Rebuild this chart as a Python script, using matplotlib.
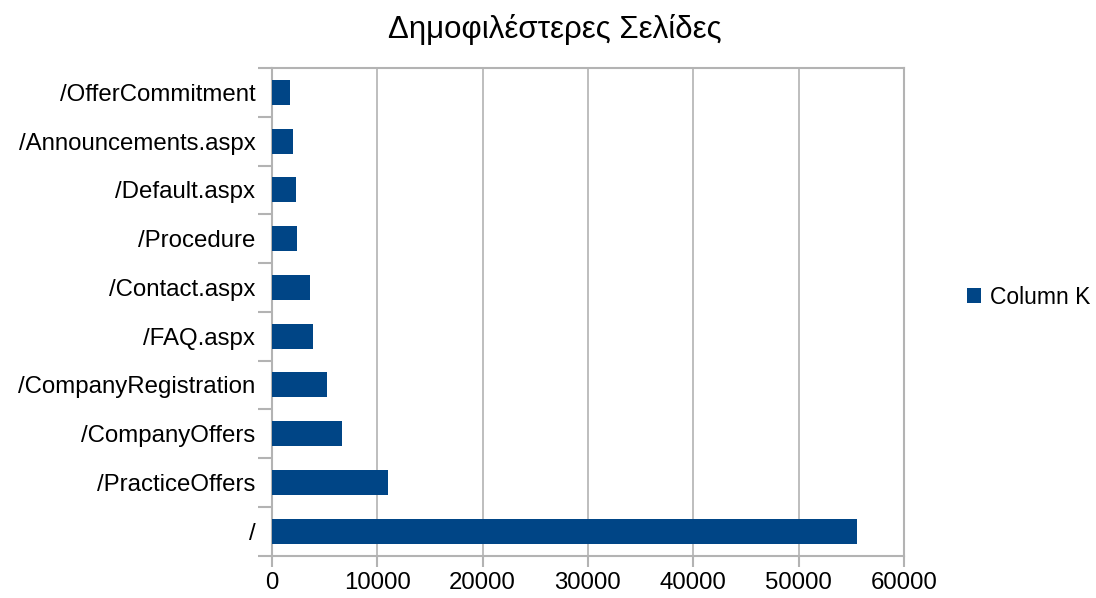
import numpy as np
import matplotlib
matplotlib.use('Agg')
import matplotlib.pyplot as plt
from matplotlib.ticker import FixedLocator

plt.rcParams['font.family'] = ['Liberation Sans', 'DejaVu Sans']

# data (bottom to top)
pages = ['/', '/PracticeOffers', '/CompanyOffers', '/CompanyRegistration', '/FAQ.aspx',
         '/Contact.aspx', '/Procedure', '/Default.aspx', '/Announcements.aspx', '/OfferCommitment']
views = [55580, 11000, 6620, 5200, 3870, 3580, 2350, 2250, 1970, 1700]
series_name = 'Column K'
title = 'Δημοφιλέστερες Σελίδες'

bar_color = '#004586'
grid_color = '#b3b3b3'

fig = plt.figure(figsize=(10.96, 5.98), dpi=100)
ax = fig.add_axes([272 / 1096, 1 - 555.5 / 598, 632 / 1096, 487.5 / 598])

y = np.arange(len(pages))
ax.barh(y, views, height=0.51, color=bar_color, label=series_name, zorder=3)

ax.set_xlim(0, 60000)
ax.set_ylim(-0.5, len(pages) - 0.5)
ax.set_xticks(np.arange(0, 60001, 10000))
ax.set_yticks(y)
ax.set_yticklabels(pages)
ax.yaxis.set_minor_locator(FixedLocator(np.arange(-0.5, len(pages), 1.0)))

ax.tick_params(axis='y', which='major', length=0, pad=12, labelsize=17.3)
ax.tick_params(axis='y', which='minor', length=10, width=1.5, color=grid_color)
ax.tick_params(axis='x', which='major', length=8, width=1.5, color=grid_color, labelsize=17.3, pad=4)

ax.grid(axis='x', color=grid_color, linewidth=1.2, zorder=0)
for s in ax.spines.values():
    s.set_color(grid_color)
    s.set_linewidth(1.5)

fig.suptitle(title, x=555 / 1096, y=1 - 14 / 598, fontsize=22.5, va='top')

fig.legend(loc='center left', bbox_to_anchor=(967 / 1096, 1 - 297 / 598), frameon=False,
           borderpad=0, borderaxespad=0, fontsize=16.5, handlelength=0.62, handleheight=0.62,
           handletextpad=0.4)

fig.savefig('out.png', dpi=100)
